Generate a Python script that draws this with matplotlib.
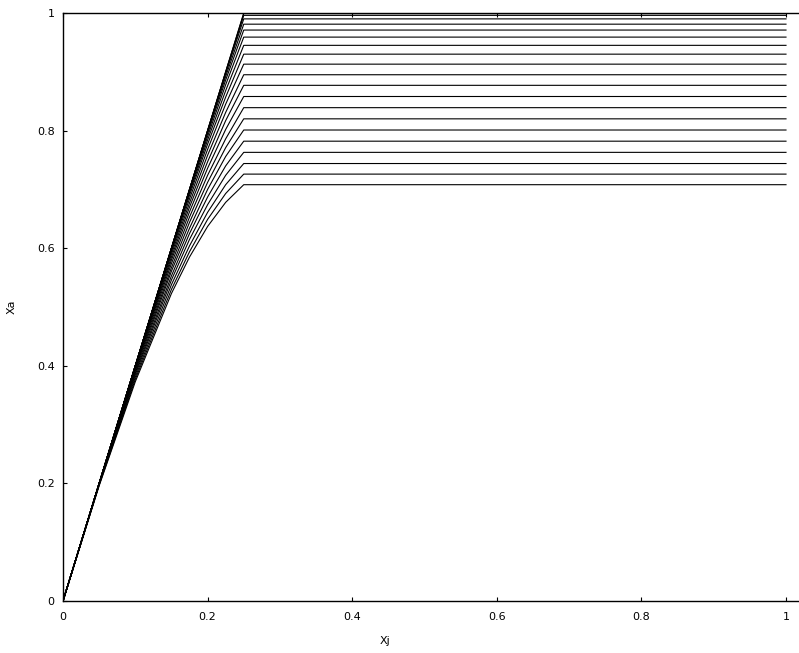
import matplotlib
matplotlib.use("Agg")
import matplotlib.pyplot as plt

# Xj sample points shared by every curve
xj = [0, 0.05, 0.1, 0.15, 0.175, 0.2, 0.225, 0.25, 1.0]

# Xa on the rising part (at Xj = 0.05 .. 0.225), one row per curve
xa_rise = [
    [0.196, 0.373, 0.523, 0.585, 0.637, 0.678],
    [0.197, 0.377, 0.530, 0.594, 0.649, 0.693],
    [0.198, 0.381, 0.538, 0.604, 0.661, 0.708],
    [0.199, 0.385, 0.546, 0.615, 0.674, 0.724],
    [0.199, 0.388, 0.553, 0.625, 0.687, 0.740],
    [0.200, 0.391, 0.561, 0.634, 0.700, 0.756],
    [0.200, 0.394, 0.567, 0.644, 0.712, 0.771],
    [0.200, 0.396, 0.574, 0.653, 0.724, 0.786],
    [0.200, 0.398, 0.580, 0.662, 0.736, 0.802],
    [0.200, 0.399, 0.585, 0.670, 0.747, 0.817],
    [0.200, 0.400, 0.590, 0.677, 0.758, 0.831],
    [0.200, 0.400, 0.594, 0.684, 0.768, 0.845],
    [0.200, 0.400, 0.597, 0.690, 0.777, 0.857],
    [0.200, 0.400, 0.599, 0.694, 0.784, 0.868],
    [0.200, 0.400, 0.600, 0.697, 0.790, 0.878],
    [0.200, 0.400, 0.600, 0.699, 0.795, 0.886],
    [0.200, 0.400, 0.600, 0.700, 0.798, 0.892],
    [0.200, 0.400, 0.600, 0.700, 0.800, 0.897],
    [0.200, 0.400, 0.600, 0.700, 0.800, 0.899],
    [0.200, 0.400, 0.600, 0.700, 0.800, 0.900],
    [0.200, 0.400, 0.600, 0.700, 0.800, 0.900],
]

# flat level reached from Xj = 0.25 on
xa_plateau = [0.708, 0.726, 0.744, 0.763, 0.782, 0.801, 0.820, 0.839, 0.858,
              0.877, 0.895, 0.913, 0.930, 0.945, 0.959, 0.971, 0.981, 0.990,
              0.996, 0.999, 1.000]

ticks = [0, 0.2, 0.4, 0.6, 0.8, 1]
tick_labels = ["0", "0.2", "0.4", "0.6", "0.8", "1"]

fig = plt.figure(figsize=(7.99, 6.53), dpi=100)
ax = fig.add_axes([63 / 799, 52 / 653, 736 / 799, 588 / 653])

for rise, p in zip(xa_rise, xa_plateau):
    xa = [0] + rise + [p, p]
    ax.plot(xj, xa, color="black", lw=0.8, solid_joinstyle="round")

ax.set_xlim(0, 736 / 723)
ax.set_ylim(0, 1)
ax.set_xticks(ticks)
ax.set_xticklabels(tick_labels)
ax.set_yticks(ticks)
ax.set_yticklabels(tick_labels)
ax.tick_params(direction="in", length=3, width=0.8, labelsize=8,
               top=True, colors="black")
ax.tick_params(axis="x", pad=8)
ax.tick_params(axis="y", pad=6)
ax.spines["right"].set_visible(False)
for s in ["left", "bottom", "top"]:
    ax.spines[s].set_linewidth(1.0)

# axis titles sit where the reference has them
ax.set_xlabel("Xj", fontsize=8, va="center")
ax.set_ylabel("Xa", fontsize=8, va="center")
ax.xaxis.set_label_coords((385 - 63) / 736, -40 / 588)
ax.yaxis.set_label_coords(-51 / 736, 0.5)

fig.savefig("out.png", dpi=100)
